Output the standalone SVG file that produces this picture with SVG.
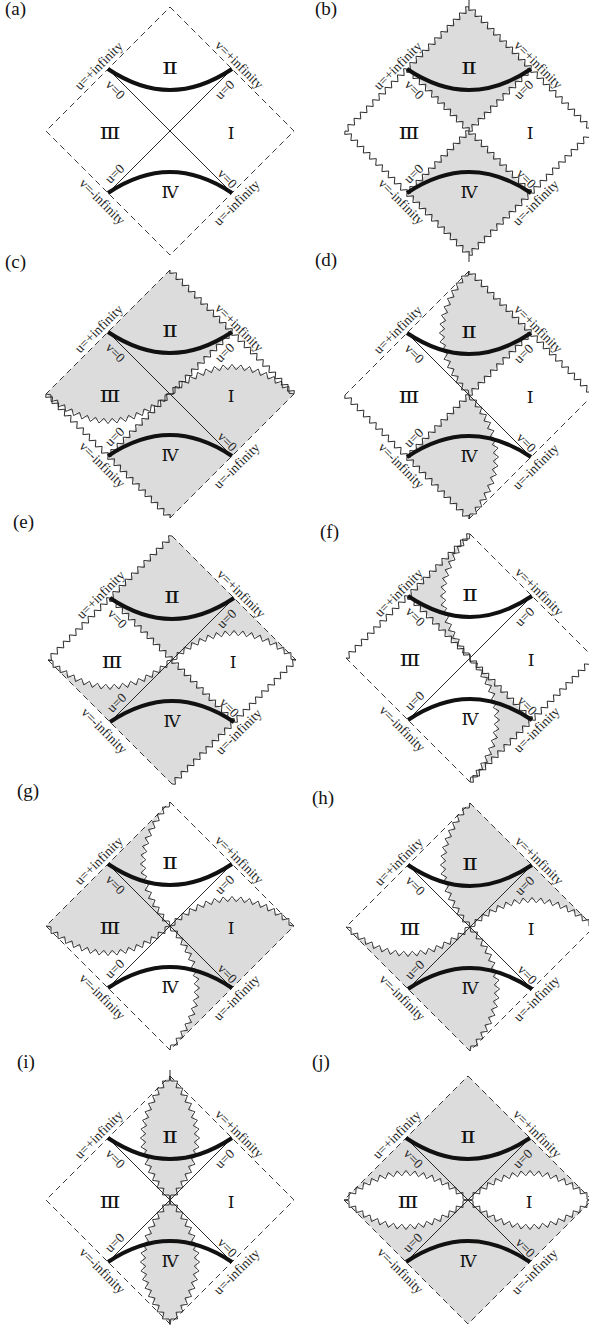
<svg xmlns="http://www.w3.org/2000/svg" width="589" height="1325" viewBox="0 0 589 1325">
<style>
.g{fill:#dcdcdc}
.w{fill:#fff}
.ln{fill:none;stroke:#111;stroke-width:0.9}
.ds{fill:none;stroke:#222;stroke-width:0.9;stroke-dasharray:6 4}
.tk{fill:none;stroke:#111;stroke-width:4}
.rn{font-family:"Liberation Serif","DejaVu Serif","Noto Sans CJK JP",serif;font-size:17px;text-anchor:middle;fill:#111}
.lb{font-family:"Liberation Serif",serif;font-size:13.5px;text-anchor:middle;fill:#222}
.pl{font-family:"Liberation Serif",serif;font-size:19px;fill:#111}
</style>
<defs>
<path id="zs" fill="none" stroke="#222" stroke-width="0.9" d="M0,0 l2.192,2.6 4.384,-5.2 4.384,5.2 4.384,-5.2 4.384,5.2 4.384,-5.2 4.384,5.2 4.384,-5.2 4.384,5.2 4.384,-5.2 4.384,5.2 4.384,-5.2 4.384,5.2 4.384,-5.2 4.384,5.2 4.384,-5.2 4.384,5.2 4.384,-5.2 4.384,5.2 4.384,-5.2 4.384,5.2 4.384,-5.2 4.384,5.2 4.384,-5.2 4.384,5.2 4.384,-5.2 4.384,5.2 4.384,-5.2 4.384,5.2 4.384,-5.2 4.384,5.2 4.384,-5.2 4.384,5.2 4.384,-5.2 4.384,5.2 4.384,-5.2 4.384,5.2 4.384,-5.2 4.384,5.2 4.384,-5.2 2.192,2.6"/>
<polyline id="za" fill="none" stroke="#222" stroke-width="0.9" points="0,0 4.98,0.82 5.08,7.56 11.68,6.02 12.21,12.75 18.67,10.76 19.70,17.45 25.96,14.95 27.55,21.55 33.59,18.53 35.75,24.92 41.48,21.33 44.29,27.47 49.58,23.28 53.08,29.06 57.84,24.27 62,29.6 66.16,24.27 70.92,29.06 74.42,23.28 79.71,27.47 82.52,21.33 88.25,24.92 90.41,18.53 96.45,21.55 98.04,14.95 104.30,17.45 105.33,10.76 111.79,12.75 112.32,6.02 118.92,7.56 119.02,0.82 124,0"/>
</defs>
<rect width="589" height="1325" fill="#fff"/>

<g id="panel-a">
<text class="pl" x="5" y="15">(a)</text>
<g transform="translate(170,131)">
<path class="ds" d="M0,-124 L124,0 L0,124 L-124,0 Z"/>
<path class="ln" d="M-62,-62 L62,62 M62,-62 L-62,62"/>
<path class="tk" d="M-62,-62 C-20,-34 20,-34 62,-62 M-62,62 C-20,34 20,34 62,62"/>
<text class="rn" x="0" y="-57" textLength="16" lengthAdjust="spacingAndGlyphs">Ⅱ</text><text class="rn" x="-60" y="8" textLength="21" lengthAdjust="spacingAndGlyphs">Ⅲ</text><text class="rn" x="61" y="8">Ⅰ</text><text class="rn" x="0" y="67">Ⅳ</text>
<text class="lb" transform="translate(-71,-65) rotate(-45)" y="4">u=+infinity</text>
<text class="lb" transform="translate(69,-66) rotate(45)" y="4">v=+infinity</text>
<text class="lb" transform="translate(-68,71) rotate(45)" y="4">v=-infinity</text>
<text class="lb" transform="translate(67,72) rotate(-45)" y="4">u=-infinity</text>
<text class="lb" transform="translate(-55,-41) rotate(45)" y="4">v=0</text>
<text class="lb" transform="translate(55,-41) rotate(-45)" y="4">u=0</text>
<text class="lb" transform="translate(-55,43) rotate(-45)" y="4">u=0</text>
<text class="lb" transform="translate(57,48) rotate(45)" y="4">v=0</text>
</g>
</g>

<g id="panel-b">
<text class="pl" x="315" y="15">(b)</text>
<g transform="translate(469,131)">
<path class="g" d="M0,-124 L62,-62 L0,0 L-62,-62 Z M0,124 L-62,62 L0,0 L62,62 Z"/>
<use href="#zs" transform="translate(0,-124) rotate(135)"/>
<use href="#zs" transform="translate(0,-124) rotate(45)"/>
<use href="#zs" transform="translate(-124,0) rotate(45)"/>
<use href="#zs" transform="translate(124,0) rotate(135)"/>
<use href="#zs" transform="translate(-62,-62) rotate(45)"/>
<use href="#zs" transform="translate(62,-62) rotate(135)"/>
<path class="ln" d="M0,-124 V-131 M0,124 V131"/>
<path class="tk" d="M-62,-62 C-20,-34 20,-34 62,-62 M-62,62 C-20,34 20,34 62,62"/>
<text class="rn" x="0" y="-57" textLength="16" lengthAdjust="spacingAndGlyphs">Ⅱ</text><text class="rn" x="-60" y="8" textLength="21" lengthAdjust="spacingAndGlyphs">Ⅲ</text><text class="rn" x="61" y="8">Ⅰ</text><text class="rn" x="0" y="67">Ⅳ</text>
<text class="lb" transform="translate(-71,-65) rotate(-45)" y="4">u=+infinity</text>
<text class="lb" transform="translate(69,-66) rotate(45)" y="4">v=+infinity</text>
<text class="lb" transform="translate(-68,71) rotate(45)" y="4">v=-infinity</text>
<text class="lb" transform="translate(67,72) rotate(-45)" y="4">u=-infinity</text>
<text class="lb" transform="translate(-55,-41) rotate(45)" y="4">v=0</text>
<text class="lb" transform="translate(55,-41) rotate(-45)" y="4">u=0</text>
<text class="lb" transform="translate(-55,43) rotate(-45)" y="4">u=0</text>
<text class="lb" transform="translate(57,48) rotate(45)" y="4">v=0</text>
</g>
</g>

<g id="panel-c">
<text class="pl" x="5" y="268">(c)</text>
<g transform="translate(170,394)">
<path class="g" d="M0,-124 L124,0 L0,124 L-124,0 Z"/>
<path class="w" d="M-124,0 Q-62,54 0,0 L-62,62 Z M0,0 Q62,-54 124,0 L62,-62 Z"/>
<path class="ln" d="M-62,-62 L62,62"/>
<path class="ds" d="M0,-124 L-124,0 M0,124 L124,0"/>
<use href="#zs" transform="translate(0,-124) rotate(45)"/>
<use href="#zs" transform="translate(-124,0) rotate(45)"/>
<use href="#zs" transform="translate(62,-62) rotate(135)"/>
<use href="#za" transform="translate(-124,0)"/>
<use href="#za" transform="scale(1,-1)"/>
<path class="tk" d="M-62,-62 C-20,-34 20,-34 62,-62 M-62,62 C-20,34 20,34 62,62"/>
<text class="rn" x="0" y="-57" textLength="16" lengthAdjust="spacingAndGlyphs">Ⅱ</text><text class="rn" x="-60" y="8" textLength="21" lengthAdjust="spacingAndGlyphs">Ⅲ</text><text class="rn" x="61" y="8">Ⅰ</text><text class="rn" x="0" y="67">Ⅳ</text>
<text class="lb" transform="translate(-71,-65) rotate(-45)" y="4">u=+infinity</text>
<text class="lb" transform="translate(69,-66) rotate(45)" y="4">v=+infinity</text>
<text class="lb" transform="translate(-68,71) rotate(45)" y="4">v=-infinity</text>
<text class="lb" transform="translate(67,72) rotate(-45)" y="4">u=-infinity</text>
<text class="lb" transform="translate(-55,-41) rotate(45)" y="4">v=0</text>
<text class="lb" transform="translate(55,-41) rotate(-45)" y="4">u=0</text>
<text class="lb" transform="translate(-55,43) rotate(-45)" y="4">u=0</text>
<text class="lb" transform="translate(57,48) rotate(45)" y="4">v=0</text>
</g>
</g>

<g id="panel-d">
<text class="pl" x="315" y="266">(d)</text>
<g transform="translate(469,395)">
<path class="g" d="M0,-124 Q-54,-62 0,0 L62,-62 Z M0,0 Q54,62 0,124 L-62,62 Z"/>
<path class="ln" d="M-62,-62 L62,62"/>
<path class="ds" d="M0,-124 L-124,0 M0,124 L124,0"/>
<use href="#zs" transform="translate(0,-124) rotate(45)"/>
<use href="#zs" transform="translate(-124,0) rotate(45)"/>
<use href="#zs" transform="translate(62,-62) rotate(135)"/>
<use href="#za" transform="translate(0,-124) rotate(90)"/>
<use href="#za" transform="rotate(90) scale(1,-1)"/>
<path class="tk" d="M-62,-62 C-20,-34 20,-34 62,-62 M-62,62 C-20,34 20,34 62,62"/>
<text class="rn" x="0" y="-57" textLength="16" lengthAdjust="spacingAndGlyphs">Ⅱ</text><text class="rn" x="-60" y="8" textLength="21" lengthAdjust="spacingAndGlyphs">Ⅲ</text><text class="rn" x="61" y="8">Ⅰ</text><text class="rn" x="0" y="67">Ⅳ</text>
<text class="lb" transform="translate(-71,-65) rotate(-45)" y="4">u=+infinity</text>
<text class="lb" transform="translate(69,-66) rotate(45)" y="4">v=+infinity</text>
<text class="lb" transform="translate(-68,71) rotate(45)" y="4">v=-infinity</text>
<text class="lb" transform="translate(67,72) rotate(-45)" y="4">u=-infinity</text>
<text class="lb" transform="translate(-55,-41) rotate(45)" y="4">v=0</text>
<text class="lb" transform="translate(55,-41) rotate(-45)" y="4">u=0</text>
<text class="lb" transform="translate(-55,43) rotate(-45)" y="4">u=0</text>
<text class="lb" transform="translate(57,48) rotate(45)" y="4">v=0</text>
</g>
</g>

<g id="panel-e">
<text class="pl" x="13" y="528">(e)</text>
<g transform="translate(172,660)">
<path class="g" d="M0,-124 L124,0 L0,124 L-124,0 Z"/>
<path class="w" d="M-124,0 L-62,-62 L0,0 Q-62,54 -124,0 Z M0,0 L62,62 L124,0 Q62,-54 0,0 Z"/>
<path class="ln" d="M62,-62 L-62,62"/>
<path class="ds" d="M0,-124 L124,0 M-124,0 L0,124"/>
<use href="#zs" transform="translate(0,-124) rotate(135)"/>
<use href="#zs" transform="translate(124,0) rotate(135)"/>
<use href="#zs" transform="translate(-62,-62) rotate(45)"/>
<use href="#za" transform="translate(-124,0)"/>
<use href="#za" transform="scale(1,-1)"/>
<path class="tk" d="M-62,-62 C-20,-34 20,-34 62,-62 M-62,62 C-20,34 20,34 62,62"/>
<text class="rn" x="0" y="-57" textLength="16" lengthAdjust="spacingAndGlyphs">Ⅱ</text><text class="rn" x="-60" y="8" textLength="21" lengthAdjust="spacingAndGlyphs">Ⅲ</text><text class="rn" x="61" y="8">Ⅰ</text><text class="rn" x="0" y="67">Ⅳ</text>
<text class="lb" transform="translate(-71,-65) rotate(-45)" y="4">u=+infinity</text>
<text class="lb" transform="translate(69,-66) rotate(45)" y="4">v=+infinity</text>
<text class="lb" transform="translate(-68,71) rotate(45)" y="4">v=-infinity</text>
<text class="lb" transform="translate(67,72) rotate(-45)" y="4">u=-infinity</text>
<text class="lb" transform="translate(-55,-41) rotate(45)" y="4">v=0</text>
<text class="lb" transform="translate(55,-41) rotate(-45)" y="4">u=0</text>
<text class="lb" transform="translate(-55,43) rotate(-45)" y="4">u=0</text>
<text class="lb" transform="translate(57,48) rotate(45)" y="4">v=0</text>
</g>
</g>

<g id="panel-f">
<text class="pl" x="320" y="538">(f)</text>
<g transform="translate(470,658)">
<path class="g" d="M0,-124 Q-54,-62 0,0 L-62,-62 Z M0,0 Q54,62 0,124 L62,62 Z"/>
<path class="ln" d="M62,-62 L-62,62"/>
<path class="ds" d="M0,-124 L124,0 M-124,0 L0,124"/>
<use href="#zs" transform="translate(0,-124) rotate(135)"/>
<use href="#zs" transform="translate(124,0) rotate(135)"/>
<use href="#zs" transform="translate(-62,-62) rotate(45)"/>
<use href="#za" transform="translate(0,-124) rotate(90)"/>
<use href="#za" transform="rotate(90) scale(1,-1)"/>
<path class="tk" d="M-62,-62 C-20,-34 20,-34 62,-62 M-62,62 C-20,34 20,34 62,62"/>
<text class="rn" x="0" y="-57" textLength="16" lengthAdjust="spacingAndGlyphs">Ⅱ</text><text class="rn" x="-60" y="8" textLength="21" lengthAdjust="spacingAndGlyphs">Ⅲ</text><text class="rn" x="61" y="8">Ⅰ</text><text class="rn" x="0" y="67">Ⅳ</text>
<text class="lb" transform="translate(-71,-65) rotate(-45)" y="4">u=+infinity</text>
<text class="lb" transform="translate(69,-66) rotate(45)" y="4">v=+infinity</text>
<text class="lb" transform="translate(-68,71) rotate(45)" y="4">v=-infinity</text>
<text class="lb" transform="translate(67,72) rotate(-45)" y="4">u=-infinity</text>
<text class="lb" transform="translate(-55,-41) rotate(45)" y="4">v=0</text>
<text class="lb" transform="translate(55,-41) rotate(-45)" y="4">u=0</text>
<text class="lb" transform="translate(-55,43) rotate(-45)" y="4">u=0</text>
<text class="lb" transform="translate(57,48) rotate(45)" y="4">v=0</text>
</g>
</g>

<g id="panel-g">
<text class="pl" x="17" y="797">(g)</text>
<g transform="translate(170,926)">
<path class="g" d="M0,-124 L-124,0 Q-62,54 0,0 Q-54,-62 0,-124 Z M0,0 Q62,-54 124,0 L0,124 Q54,62 0,0 Z"/>
<path class="ln" d="M-62,-62 L62,62 M62,-62 L-62,62"/>
<path class="ds" d="M0,-124 L124,0 L0,124 L-124,0 Z"/>
<use href="#za" transform="translate(0,-124) rotate(90)"/>
<use href="#za" transform="rotate(90) scale(1,-1)"/>
<use href="#za" transform="translate(-124,0)"/>
<use href="#za" transform="scale(1,-1)"/>
<path class="tk" d="M-62,-62 C-20,-34 20,-34 62,-62 M-62,62 C-20,34 20,34 62,62"/>
<text class="rn" x="0" y="-57" textLength="16" lengthAdjust="spacingAndGlyphs">Ⅱ</text><text class="rn" x="-60" y="8" textLength="21" lengthAdjust="spacingAndGlyphs">Ⅲ</text><text class="rn" x="61" y="8">Ⅰ</text><text class="rn" x="0" y="67">Ⅳ</text>
<text class="lb" transform="translate(-71,-65) rotate(-45)" y="4">u=+infinity</text>
<text class="lb" transform="translate(69,-66) rotate(45)" y="4">v=+infinity</text>
<text class="lb" transform="translate(-68,71) rotate(45)" y="4">v=-infinity</text>
<text class="lb" transform="translate(67,72) rotate(-45)" y="4">u=-infinity</text>
<text class="lb" transform="translate(-55,-41) rotate(45)" y="4">v=0</text>
<text class="lb" transform="translate(55,-41) rotate(-45)" y="4">u=0</text>
<text class="lb" transform="translate(-55,43) rotate(-45)" y="4">u=0</text>
<text class="lb" transform="translate(57,48) rotate(45)" y="4">v=0</text>
</g>
</g>

<g id="panel-h">
<text class="pl" x="312" y="804">(h)</text>
<g transform="translate(470,927)">
<path class="g" d="M0,-124 Q-54,-62 0,0 Q62,-54 124,0 Z M-124,0 Q-62,54 0,0 Q54,62 0,124 Z"/>
<path class="ln" d="M-62,-62 L62,62 M62,-62 L-62,62"/>
<path class="ds" d="M0,-124 L124,0 L0,124 L-124,0 Z"/>
<use href="#za" transform="translate(0,-124) rotate(90)"/>
<use href="#za" transform="rotate(90) scale(1,-1)"/>
<use href="#za" transform="translate(-124,0)"/>
<use href="#za" transform="scale(1,-1)"/>
<path class="tk" d="M-62,-62 C-20,-34 20,-34 62,-62 M-62,62 C-20,34 20,34 62,62"/>
<text class="rn" x="0" y="-57" textLength="16" lengthAdjust="spacingAndGlyphs">Ⅱ</text><text class="rn" x="-60" y="8" textLength="21" lengthAdjust="spacingAndGlyphs">Ⅲ</text><text class="rn" x="61" y="8">Ⅰ</text><text class="rn" x="0" y="67">Ⅳ</text>
<text class="lb" transform="translate(-71,-65) rotate(-45)" y="4">u=+infinity</text>
<text class="lb" transform="translate(69,-66) rotate(45)" y="4">v=+infinity</text>
<text class="lb" transform="translate(-68,71) rotate(45)" y="4">v=-infinity</text>
<text class="lb" transform="translate(67,72) rotate(-45)" y="4">u=-infinity</text>
<text class="lb" transform="translate(-55,-41) rotate(45)" y="4">v=0</text>
<text class="lb" transform="translate(55,-41) rotate(-45)" y="4">u=0</text>
<text class="lb" transform="translate(-55,43) rotate(-45)" y="4">u=0</text>
<text class="lb" transform="translate(57,48) rotate(45)" y="4">v=0</text>
</g>
</g>

<g id="panel-i">
<text class="pl" x="17" y="1068">(i)</text>
<g transform="translate(170,1200)">
<path class="g" d="M0,-124 Q-54,-62 0,0 Q54,-62 0,-124 Z M0,0 Q-54,62 0,124 Q54,62 0,0 Z"/>
<path class="ln" d="M-62,-62 L62,62 M62,-62 L-62,62"/>
<path class="ds" d="M0,-124 L124,0 L0,124 L-124,0 Z"/>
<use href="#za" transform="translate(0,-124) rotate(90)"/>
<use href="#za" transform="translate(0,-124) rotate(90) scale(1,-1)"/>
<use href="#za" transform="rotate(90)"/>
<use href="#za" transform="rotate(90) scale(1,-1)"/>
<path class="ln" d="M0,-124 V-130 M0,124 V130"/>
<path class="tk" d="M-62,-62 C-20,-34 20,-34 62,-62 M-62,62 C-20,34 20,34 62,62"/>
<text class="rn" x="0" y="-57" textLength="16" lengthAdjust="spacingAndGlyphs">Ⅱ</text><text class="rn" x="-60" y="8" textLength="21" lengthAdjust="spacingAndGlyphs">Ⅲ</text><text class="rn" x="61" y="8">Ⅰ</text><text class="rn" x="0" y="67">Ⅳ</text>
<text class="lb" transform="translate(-71,-65) rotate(-45)" y="4">u=+infinity</text>
<text class="lb" transform="translate(69,-66) rotate(45)" y="4">v=+infinity</text>
<text class="lb" transform="translate(-68,71) rotate(45)" y="4">v=-infinity</text>
<text class="lb" transform="translate(67,72) rotate(-45)" y="4">u=-infinity</text>
<text class="lb" transform="translate(-55,-41) rotate(45)" y="4">v=0</text>
<text class="lb" transform="translate(55,-41) rotate(-45)" y="4">u=0</text>
<text class="lb" transform="translate(-55,43) rotate(-45)" y="4">u=0</text>
<text class="lb" transform="translate(57,48) rotate(45)" y="4">v=0</text>
</g>
</g>

<g id="panel-j">
<text class="pl" x="312" y="1068">(j)</text>
<g transform="translate(468,1200)">
<path class="g" d="M0,-124 L124,0 L0,124 L-124,0 Z"/>
<path class="w" d="M-124,0 Q-62,-54 0,0 Q-62,54 -124,0 Z M0,0 Q62,-54 124,0 Q62,54 0,0 Z"/>
<path class="ln" d="M-62,-62 L62,62 M62,-62 L-62,62"/>
<path class="ds" d="M0,-124 L124,0 L0,124 L-124,0 Z"/>
<use href="#za" transform="translate(-124,0)"/>
<use href="#za" transform="translate(-124,0) scale(1,-1)"/>
<use href="#za"/>
<use href="#za" transform="scale(1,-1)"/>
<path class="tk" d="M-62,-62 C-20,-34 20,-34 62,-62 M-62,62 C-20,34 20,34 62,62"/>
<text class="rn" x="0" y="-57" textLength="16" lengthAdjust="spacingAndGlyphs">Ⅱ</text><text class="rn" x="-60" y="8" textLength="21" lengthAdjust="spacingAndGlyphs">Ⅲ</text><text class="rn" x="61" y="8">Ⅰ</text><text class="rn" x="0" y="67">Ⅳ</text>
<text class="lb" transform="translate(-71,-65) rotate(-45)" y="4">u=+infinity</text>
<text class="lb" transform="translate(69,-66) rotate(45)" y="4">v=+infinity</text>
<text class="lb" transform="translate(-68,71) rotate(45)" y="4">v=-infinity</text>
<text class="lb" transform="translate(67,72) rotate(-45)" y="4">u=-infinity</text>
<text class="lb" transform="translate(-55,-41) rotate(45)" y="4">v=0</text>
<text class="lb" transform="translate(55,-41) rotate(-45)" y="4">u=0</text>
<text class="lb" transform="translate(-55,43) rotate(-45)" y="4">u=0</text>
<text class="lb" transform="translate(57,48) rotate(45)" y="4">v=0</text>
</g>
</g>
</svg>
